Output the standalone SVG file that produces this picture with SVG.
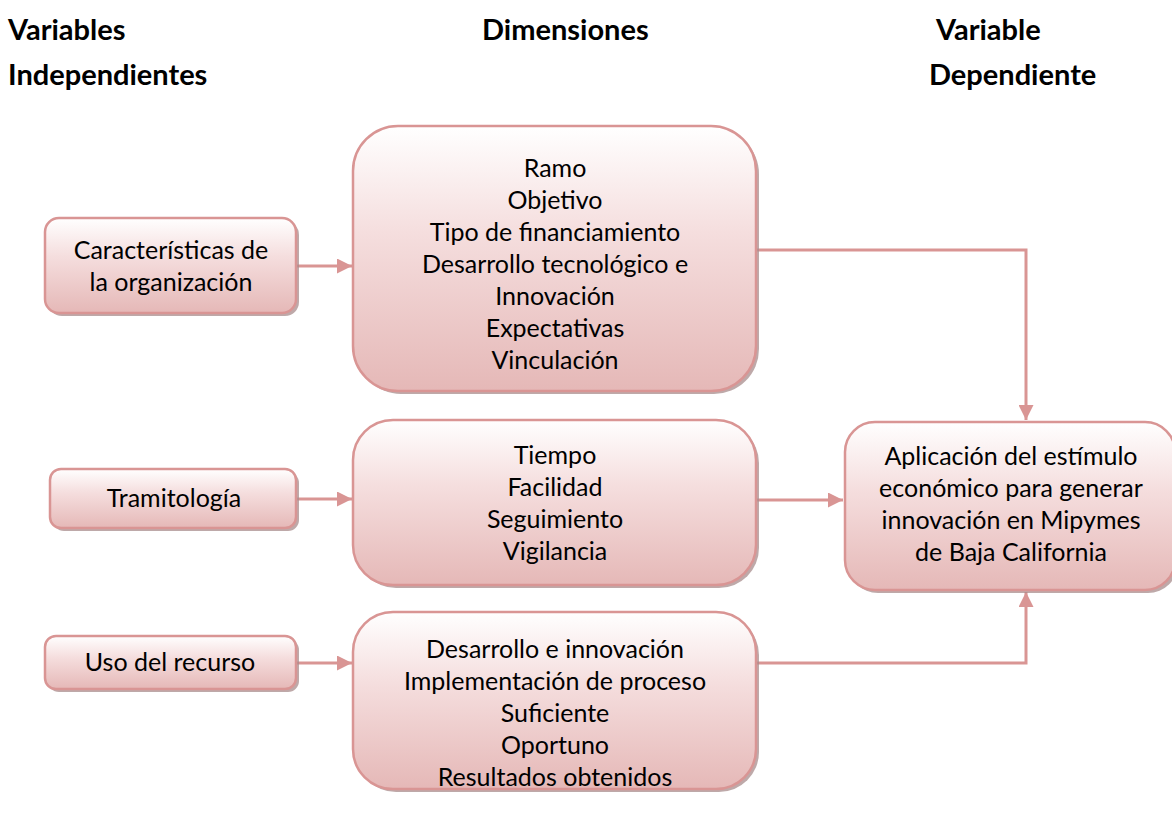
<svg xmlns="http://www.w3.org/2000/svg" width="1172" height="817" viewBox="0 0 1172 817">
<defs>
<linearGradient id="g" x1="0" y1="0" x2="0" y2="1">
<stop offset="0" stop-color="#ffffff"/>
<stop offset="0.4" stop-color="#f5dede"/>
<stop offset="1" stop-color="#e5b8b7"/>
</linearGradient>
<marker id="ah" viewBox="0 0 10 10" refX="10" refY="5" markerWidth="5" markerHeight="5" markerUnits="strokeWidth" orient="auto">
<path d="M0,0 L10,5 L0,10 Z" fill="#d99594"/>
</marker>
</defs>
<style>
.box{fill:url(#g);stroke:#d99594;stroke-width:2.5}
.sh{fill:#a88c8c;opacity:0.75}
.t{font-family:Lato,"Open Sans",sans-serif;font-size:25px;fill:#000;text-anchor:middle}
.h{font-family:Lato,"Liberation Sans",sans-serif;font-size:29px;font-weight:bold;fill:#000}
.c{fill:none;stroke:#d99594;stroke-width:3}
</style>
<rect width="1172" height="817" fill="#fff"/>
<g id="headers">
<text class="h" x="8" y="40">Variables</text>
<text class="h" x="8" y="85">Independientes</text>
<text class="h" x="482" y="40">Dimensiones</text>
<text class="h" x="936" y="40">Variable</text>
<text class="h" x="929" y="85">Dependiente</text>
</g>
<g id="connectors">
<path class="c" d="M297,266 L352,266" marker-end="url(#ah)"/>
<path class="c" d="M297,499 L352,499" marker-end="url(#ah)"/>
<path class="c" d="M297,663 L352,663" marker-end="url(#ah)"/>
<path class="c" d="M756,250 L1026,250 L1026,420" marker-end="url(#ah)"/>
<path class="c" d="M756,500 L843,500" marker-end="url(#ah)"/>
<path class="c" d="M756,663 L1026,663 L1026,592" marker-end="url(#ah)"/>
</g>
<g id="n1">
<rect class="sh" x="48" y="221" width="251" height="95" rx="14"/>
<rect class="box" x="45" y="218" width="251" height="95" rx="14"/>
<text class="t" x="171" y="259">Características de</text>
<text class="t" x="171" y="291">la organización</text>
</g>
<g id="n2">
<rect class="sh" x="53" y="472" width="246" height="59" rx="11"/>
<rect class="box" x="50" y="469" width="246" height="59" rx="11"/>
<text class="t" x="174" y="507">Tramitología</text>
</g>
<g id="n3">
<rect class="sh" x="48" y="639" width="251" height="53" rx="11"/>
<rect class="box" x="45" y="636" width="251" height="53" rx="11"/>
<text class="t" x="170" y="671">Uso del recurso</text>
</g>
<g id="d1">
<rect class="sh" x="356" y="129" width="403" height="265" rx="45"/>
<rect class="box" x="353" y="126" width="403" height="265" rx="45"/>
<text class="t" x="555" y="177">Ramo</text>
<text class="t" x="555" y="209">Objetivo</text>
<text class="t" x="555" y="241">Tipo de financiamiento</text>
<text class="t" x="555" y="273">Desarrollo tecnológico e</text>
<text class="t" x="555" y="305">Innovación</text>
<text class="t" x="555" y="337">Expectativas</text>
<text class="t" x="555" y="369">Vinculación</text>
</g>
<g id="d2">
<rect class="sh" x="356" y="423" width="403" height="165" rx="40"/>
<rect class="box" x="353" y="420" width="403" height="165" rx="40"/>
<text class="t" x="555" y="464">Tiempo</text>
<text class="t" x="555" y="496">Facilidad</text>
<text class="t" x="555" y="528">Seguimiento</text>
<text class="t" x="555" y="560">Vigilancia</text>
</g>
<g id="d3">
<rect class="sh" x="356" y="615" width="403" height="177" rx="40"/>
<rect class="box" x="353" y="612" width="403" height="177" rx="40"/>
<text class="t" x="555" y="658">Desarrollo e innovación</text>
<text class="t" x="555" y="690">Implementación de proceso</text>
<text class="t" x="555" y="722">Suficiente</text>
<text class="t" x="555" y="754">Oportuno</text>
<text class="t" x="555" y="786">Resultados obtenidos</text>
</g>
<g id="dep">
<rect class="sh" x="848" y="425" width="330" height="168" rx="30"/>
<rect class="box" x="845" y="422" width="330" height="168" rx="30"/>
<text class="t" x="1011" y="465">Aplicación del estímulo</text>
<text class="t" x="1011" y="497">económico para generar</text>
<text class="t" x="1011" y="529">innovación en Mipymes</text>
<text class="t" x="1011" y="561">de Baja California</text>
</g>
</svg>
